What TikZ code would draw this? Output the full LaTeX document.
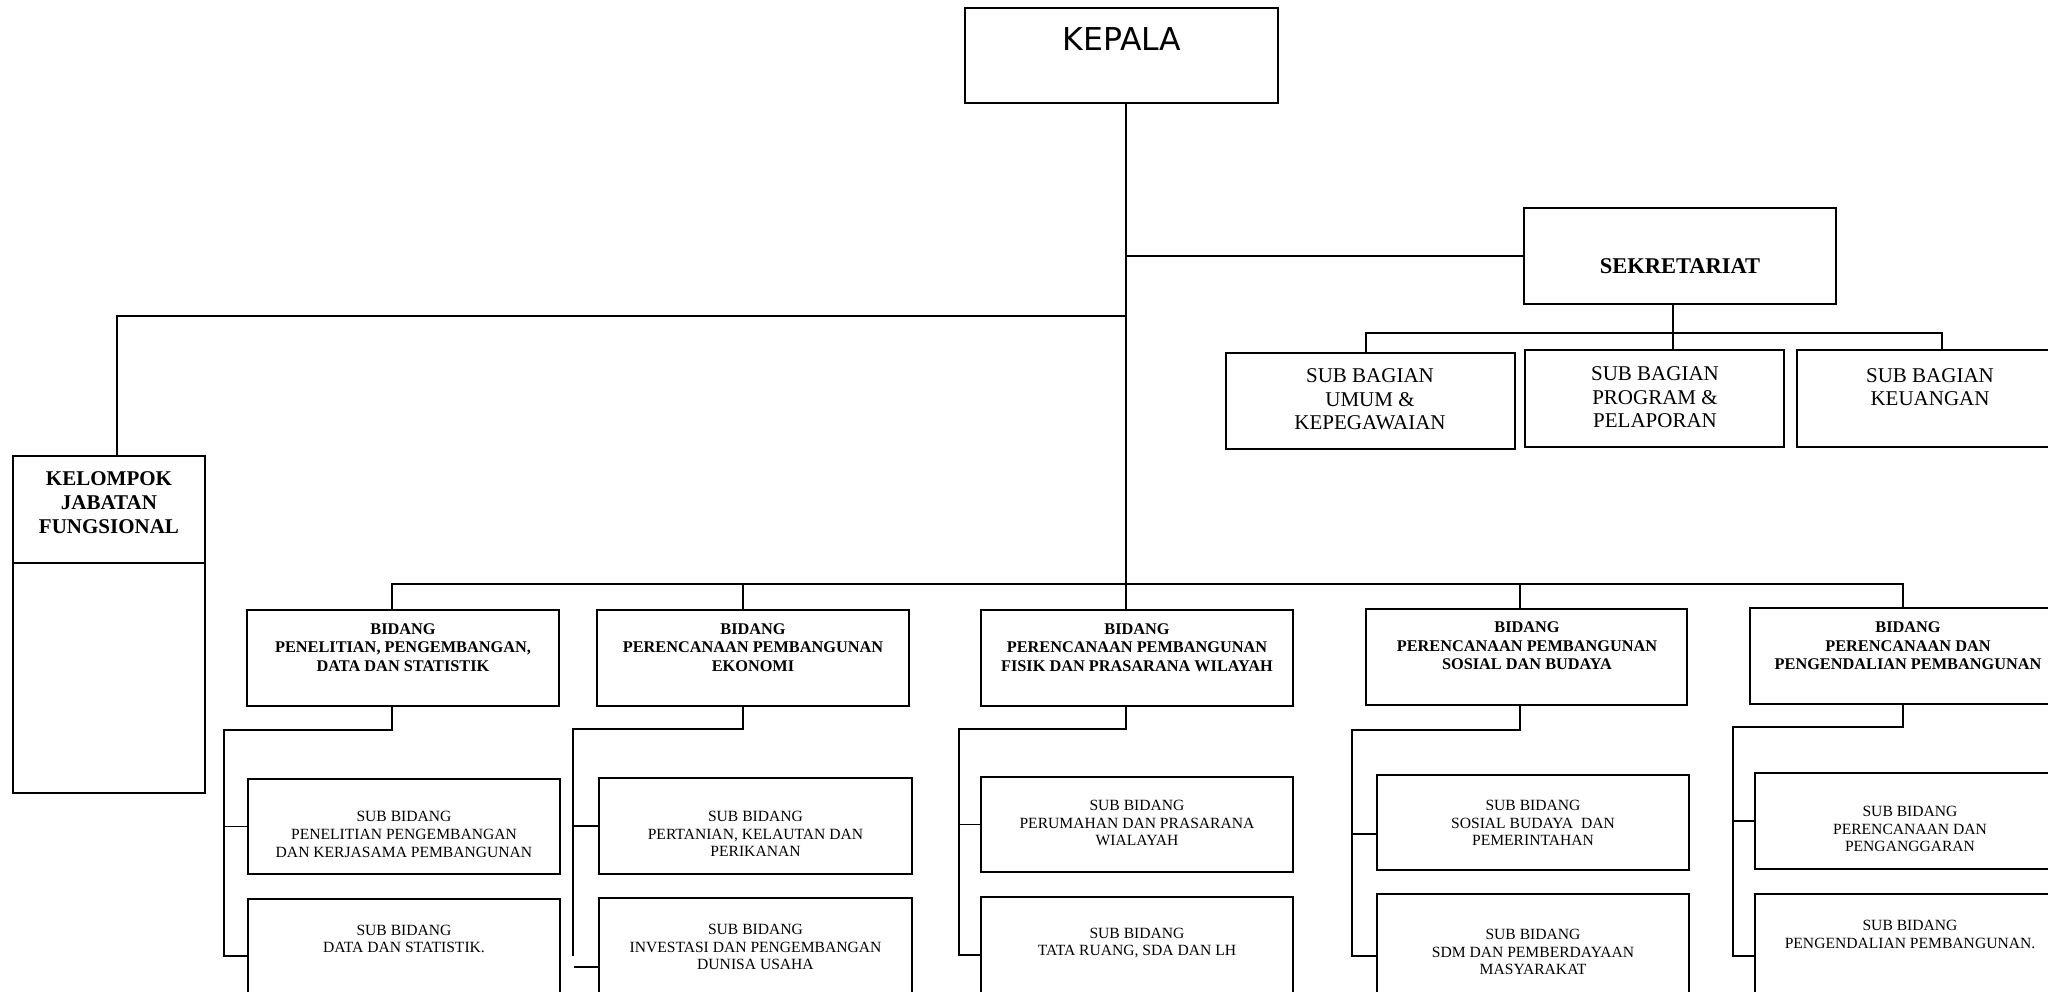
\documentclass[tikz,border=0pt]{standalone}
\usepackage{fontspec}
\setmainfont{Liberation Serif}
\newfontfamily\kepfont{DejaVu Sans}
\usetikzlibrary{calc}
\tikzset{
  box/.style={draw, line width=1.8pt, inner sep=0pt, outer sep=0pt},
  conn/.style={line width=1.8pt},
  bidtext/.style={font=\fontsize{16.3}{18.5}\selectfont\bfseries, align=center, inner sep=0pt},
  subtext/.style={font=\fontsize{15.6}{17.8}\selectfont, align=center, inner sep=0pt},
  bagtext/.style={font=\fontsize{21}{23.5}\selectfont, align=center, inner sep=0pt},
  bigbold/.style={font=\fontsize{21}{24}\selectfont\bfseries, align=center, inner sep=0pt},
}
\newcommand{\orgbox}[5]{\node[box, minimum width={#4-#2}, minimum height={#5-#3}] (#1) at ({(#2+#4)/2},{(#3+#5)/2}) {};}
\begin{document}
\begin{tikzpicture}[x=1pt,y=-1pt]
\fill[white] (0,0) rectangle (2048,992);
\useasboundingbox (0,0) rectangle (2048,992);
\clip (0,0) rectangle (2048,992);

% top
\orgbox{kepala}{965}{8}{1278}{103}
\node[font=\kepfont\fontsize{31.5}{36}\selectfont, inner sep=0pt, anchor=base] (t-kep) at (1122,51) {KEPALA};

\orgbox{sekr}{1524}{208}{1836}{304}
\node[font=\fontsize{22.5}{26}\selectfont\bfseries, inner sep=0pt] (t-sekr) at (1680,266) {SEKRETARIAT};

\orgbox{sb1}{1226}{353}{1515}{449}
\orgbox{sb2}{1525}{350}{1784}{447}
\orgbox{sb3}{1797}{350}{2062}{447}
\node[bagtext] (t-sb1) at (1370,399.5) {SUB BAGIAN\\UMUM \&\\KEPEGAWAIAN};
\node[bagtext] (t-sb2) at (1655,397.5) {SUB BAGIAN\\PROGRAM \&\\PELAPORAN};
\node[bagtext] (t-sb3) at (1930,387) {SUB BAGIAN\\KEUANGAN};

% kelompok
\orgbox{kel}{13}{456}{205}{793}
\draw[conn] ($(kel.north west)+(0,107)$) -- ($(kel.north east)+(0,107)$);
\node[bigbold] (t-kel) at (109,503) {KELOMPOK\\JABATAN\\FUNGSIONAL};

% bidang
\orgbox{b1}{247}{610}{559}{706}
\orgbox{b2}{597}{610}{909}{706}
\orgbox{b3}{981}{610}{1293}{706}
\orgbox{b4}{1366}{609}{1687}{705}
\orgbox{b5}{1750}{608}{2066}{704}
\node[bidtext] (t-b1) at (403,647.5) {BIDANG\\PENELITIAN, PENGEMBANGAN,\\DATA DAN STATISTIK};
\node[bidtext] (t-b2) at (753,647.5) {BIDANG\\PERENCANAAN PEMBANGUNAN\\EKONOMI};
\node[bidtext] (t-b3) at (1137,647.5) {BIDANG\\PERENCANAAN PEMBANGUNAN\\FISIK DAN PRASARANA WILAYAH};
\node[bidtext] (t-b4) at (1527,646) {BIDANG\\PERENCANAAN PEMBANGUNAN\\SOSIAL DAN BUDAYA};
\node[bidtext] (t-b5) at (1908,646) {BIDANG\\PERENCANAAN DAN\\PENGENDALIAN PEMBANGUNAN};

% sub bidang
\orgbox{s1a}{248}{779}{560}{874}
\orgbox{s1b}{248}{899}{560}{994}
\orgbox{s2a}{599}{778}{912}{874}
\orgbox{s2b}{599}{898}{912}{994}
\orgbox{s3a}{981}{777}{1293}{872}
\orgbox{s3b}{981}{897}{1293}{994}
\orgbox{s4a}{1377}{775}{1689}{870}
\orgbox{s4b}{1377}{894}{1689}{994}
\orgbox{s5a}{1755}{773}{2066}{869}
\orgbox{s5b}{1755}{894}{2066}{994}
\node[subtext] (t-s1a) at (404,834.5) {SUB BIDANG\\PENELITIAN PENGEMBANGAN\\DAN KERJASAMA PEMBANGUNAN};
\node[subtext] (t-s1b) at (404,939) {SUB BIDANG\\DATA DAN STATISTIK.};
\node[subtext] (t-s2a) at (755.5,834) {SUB BIDANG\\PERTANIAN, KELAUTAN DAN\\PERIKANAN};
\node[subtext] (t-s2b) at (755.5,947) {SUB BIDANG\\INVESTASI DAN PENGEMBANGAN\\DUNISA USAHA};
\node[subtext] (t-s3a) at (1137,823) {SUB BIDANG\\PERUMAHAN DAN PRASARANA\\WIALAYAH};
\node[subtext] (t-s3b) at (1137,943) {SUB BIDANG\\TATA RUANG, SDA DAN LH};
\node[subtext] (t-s4a) at (1533,823) {SUB BIDANG\\SOSIAL BUDAYA~ DAN\\PEMERINTAHAN};
\node[subtext] (t-s4b) at (1533,952) {SUB BIDANG\\SDM DAN PEMBERDAYAAN\\MASYARAKAT};
\node[subtext] (t-s5a) at (1910,829) {SUB BIDANG\\PERENCANAAN DAN\\PENGANGGARAN};
\node[subtext] (t-s5b) at (1910,934.5) {SUB BIDANG\\PENGENDALIAN PEMBANGUNAN.};

% junction coordinates
\coordinate (bus) at (1126,584);
\coordinate (kj) at (1126,316);
\coordinate (sbus) at (1673,333);
\coordinate (c1) at (224,730);
\coordinate (c2) at (573,729);
\coordinate (c2e) at (573,956);
\coordinate (c3) at (959,729);
\coordinate (c4) at (1352,730);
\coordinate (c5) at (1733,727);

% spine and top connectors
\draw[conn] ([xshift=4.5pt]kepala.south) -- (bus);
\draw[conn] (sekr.west) -- (sekr.west -| bus);
\draw[conn] ([xshift=8pt]kel.north) |- (kj);
\draw[conn] ([xshift=-7pt]sekr.south) -- (sbus);
\draw[conn] ([xshift=-4.5pt]sb1.north) |- (sbus) -| ([xshift=12.5pt]sb3.north);
\draw[conn] ([xshift=18.5pt]sb2.north) -- (sbus);

% bidang bus
\draw[conn] ([xshift=-11pt]b1.north) |- (bus) -| ([xshift=-5pt]b5.north);
\draw[conn] ([xshift=-10pt]b2.north) |- (bus);
\draw[conn] (bus) -- ([xshift=-11pt]b3.north);
\draw[conn] ([xshift=-6.5pt]b4.north) |- (bus);

% sub bidang connectors
\draw[conn] ([xshift=-11pt]b1.south) |- (c1) |- (s1a.west);
\draw[conn] (c1) |- ([yshift=-9.5pt]s1b.west);

\draw[conn] ([xshift=-10pt]b2.south) |- (c2) -- (c2e);
\draw[conn] (c2 |- s2a.west) -- (s2a.west);
\draw[conn] ([yshift=-21pt]s2b.west) -- ++(-25,0);

\draw[conn] ([xshift=-11pt]b3.south) |- (c3) |- (s3a.west);
\draw[conn] (c3) |- ([yshift=-9.5pt]s3b.west);

\draw[conn] ([xshift=-6.5pt]b4.south) |- (c4) |- ([yshift=-11.5pt]s4a.west);
\draw[conn] (c4) |- ([yshift=-12pt]s4b.west);

\draw[conn] ([xshift=-5pt]b5.south) |- (c5) |- (s5a.west);
\draw[conn] (c5) |- ([yshift=-12pt]s5b.west);
\end{tikzpicture}
\end{document}
